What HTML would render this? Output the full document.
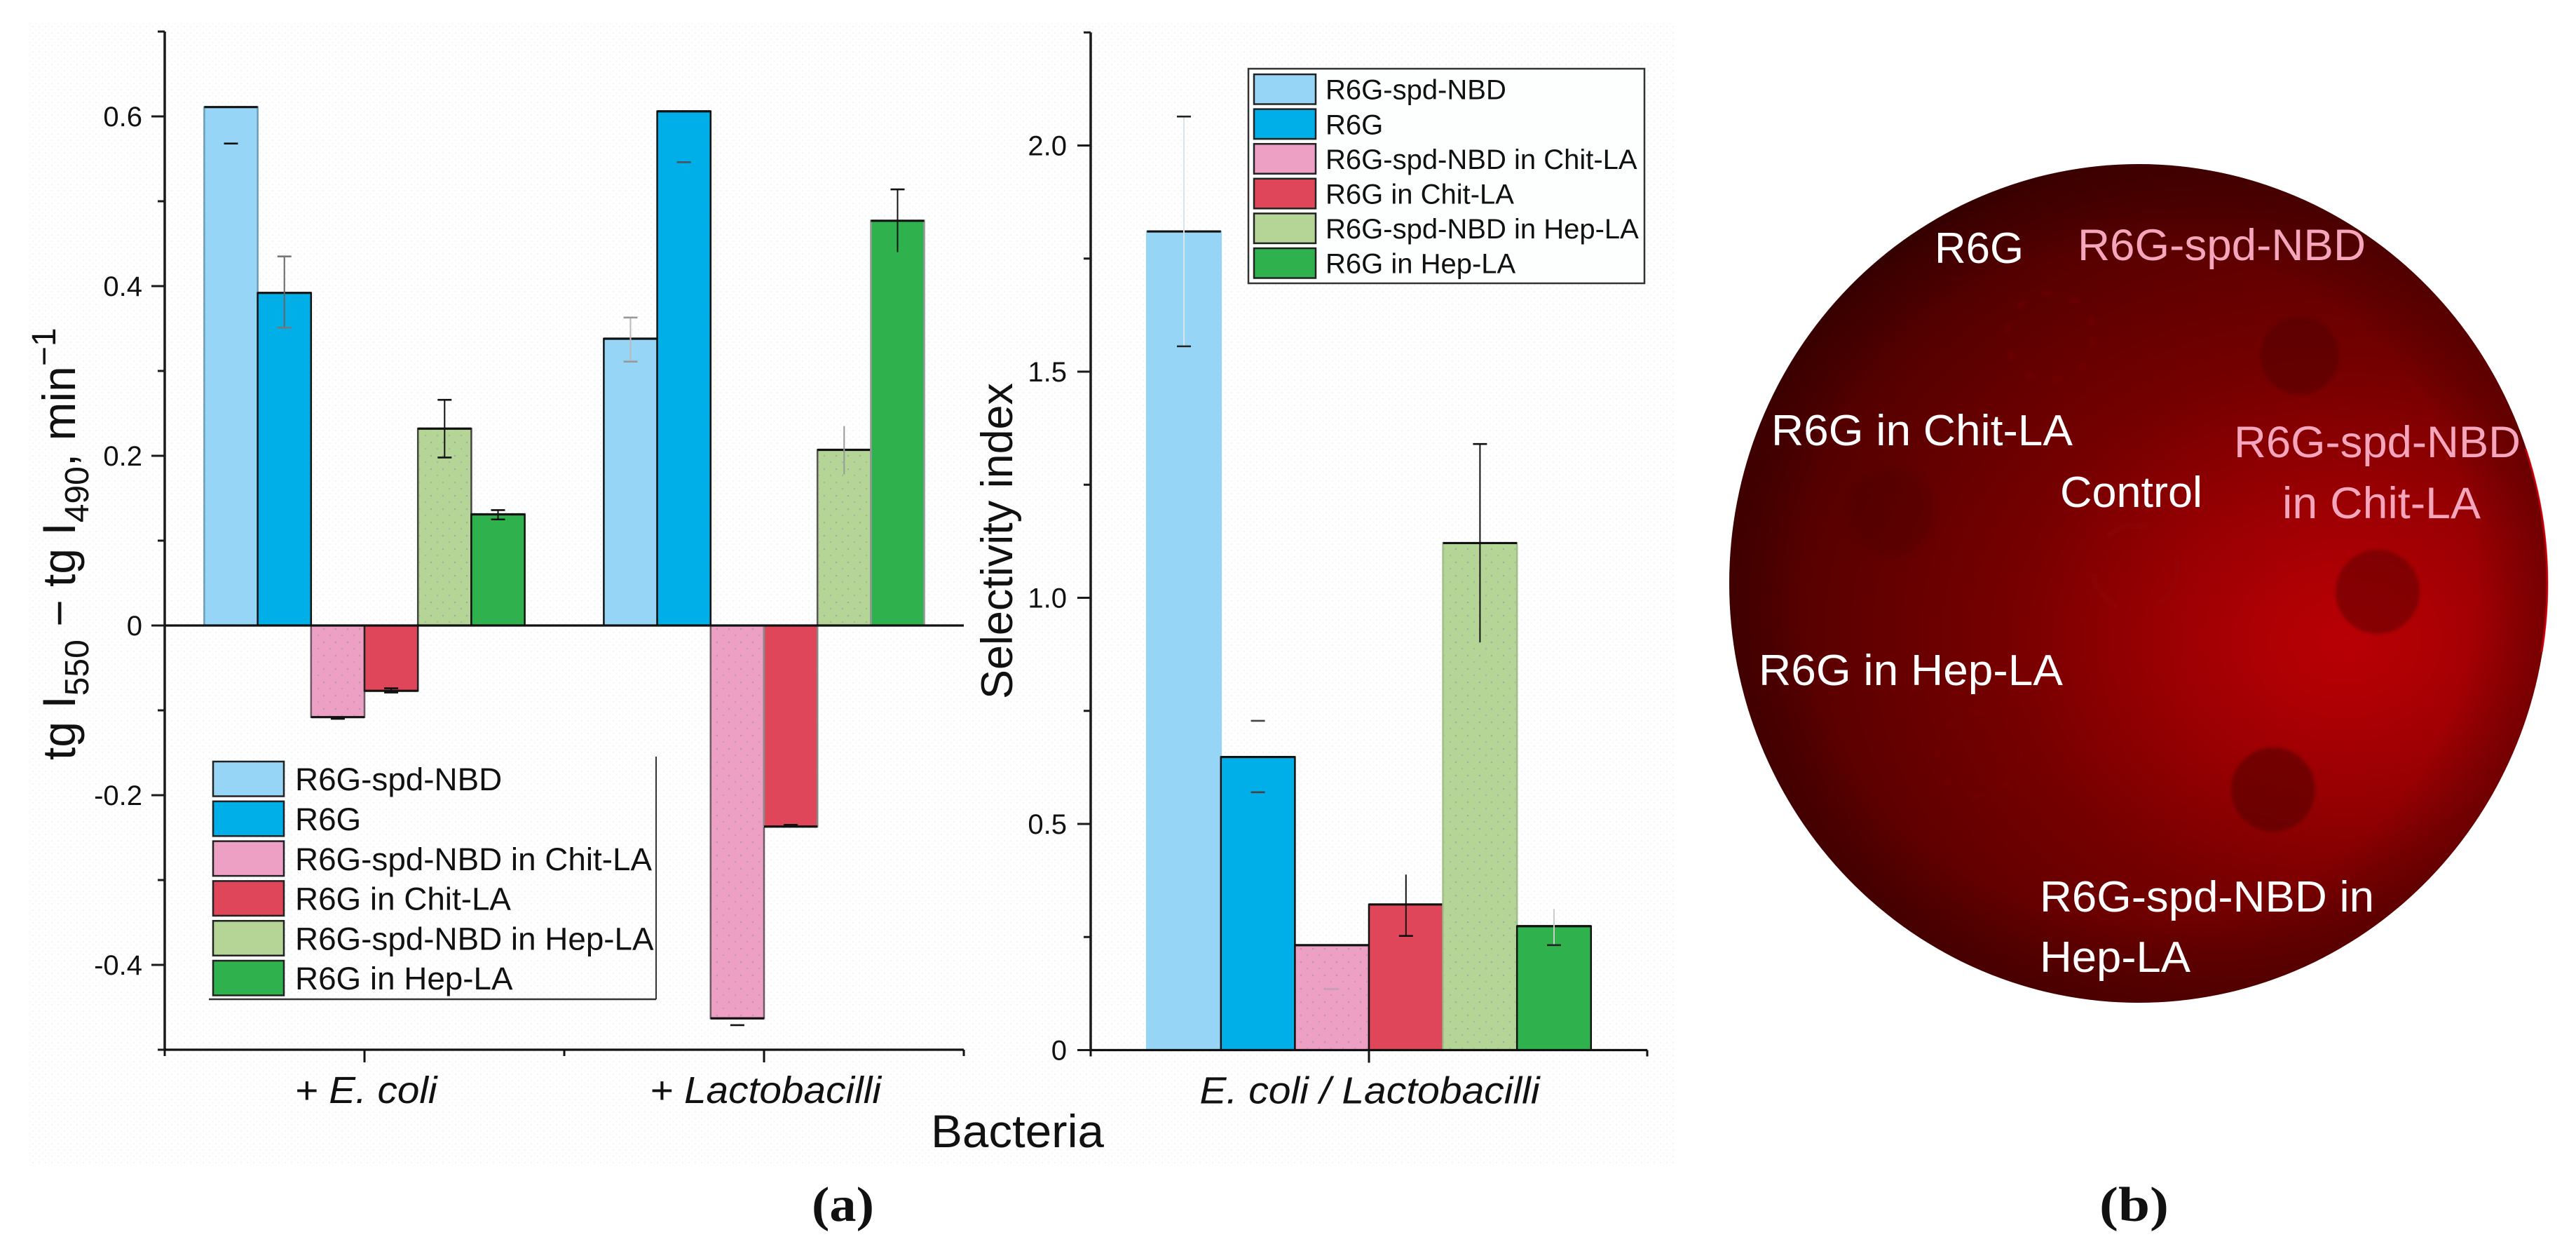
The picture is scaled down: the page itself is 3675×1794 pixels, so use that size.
<!DOCTYPE html>
<html lang="en">
<head>
<meta charset="utf-8">
<title>R6G selectivity bar charts and fluorescence plate</title>
<style>
html,body{margin:0;padding:0;background:#fff;width:3675px;height:1794px;overflow:hidden}
svg{display:block}
text{font-family:"Liberation Sans",sans-serif;fill:#111}
</style>
</head>
<body>
<svg id="figure" xmlns="http://www.w3.org/2000/svg" width="3675" height="1794" viewBox="0 0 3675 1794">
  <defs>
    <pattern id="paper-dots" width="9" height="9" patternUnits="userSpaceOnUse">
      <rect width="9" height="9" fill="#fefefe"/>
      <circle cx="2" cy="2" r="1.1" fill="#edf4f4"/>
      <circle cx="6.5" cy="6.5" r="1.1" fill="#f2f6f6"/>
    </pattern>
    <pattern id="speckle" width="17" height="19" patternUnits="userSpaceOnUse">
      <circle cx="3" cy="4" r="1.3" fill="#7f88a8" opacity=".45"/>
      <circle cx="12" cy="13" r="1.3" fill="#7f88a8" opacity=".35"/>
    </pattern>
    <radialGradient id="disc-glow" gradientUnits="userSpaceOnUse" cx="3345" cy="913" r="960" gradientTransform="translate(3345 913) scale(1 .8) translate(-3345 -913)">
      <stop offset="0" stop-color="#b80006"/>
      <stop offset=".12" stop-color="#ae0004"/>
      <stop offset=".3" stop-color="#950002"/>
      <stop offset=".5" stop-color="#760000"/>
      <stop offset=".75" stop-color="#5e0000"/>
      <stop offset=".95" stop-color="#480000"/>
      <stop offset="1" stop-color="#3a0000"/>
    </radialGradient>
    <radialGradient id="disc-vignette" gradientUnits="userSpaceOnUse" cx="3051" cy="832" r="600">
      <stop offset=".8" stop-color="#000" stop-opacity="0"/>
      <stop offset="1" stop-color="#200000" stop-opacity=".28"/>
    </radialGradient>
    <clipPath id="rim-clip"><rect x="3500" y="640" width="150" height="290"/></clipPath>
    <filter id="soft" x="-30%" y="-30%" width="160%" height="160%"><feGaussianBlur stdDeviation="2.5"/></filter>
    <filter id="soft2" x="-30%" y="-30%" width="160%" height="160%"><feGaussianBlur stdDeviation="7"/></filter>
  </defs>

  <rect width="3675" height="1794" fill="#ffffff"/>
  <rect x="41" y="32" width="2347" height="1630" fill="url(#paper-dots)"/>

  <g id="chart-left"></g>
  <g id="chart-right"></g>

  <text transform="translate(107,1084) rotate(-90)" font-size="66">tg I<tspan dy="19" font-size="48">550</tspan><tspan dy="-19"> − tg I</tspan><tspan dy="19" font-size="48">490</tspan><tspan dy="-19">, min</tspan><tspan dy="-28" font-size="48">−1</tspan></text>
  <text transform="translate(1444,997) rotate(-90)" font-size="63" textLength="451" lengthAdjust="spacingAndGlyphs">Selectivity index</text>
  <text x="1328" y="1636" font-size="66" textLength="247" lengthAdjust="spacingAndGlyphs">Bacteria</text>

  <text x="1158" y="1741" font-size="70" font-weight="bold" style="font-family:'Liberation Serif',serif" textLength="89" lengthAdjust="spacingAndGlyphs">(a)</text>
  <text x="2995" y="1741" font-size="70" font-weight="bold" style="font-family:'Liberation Serif',serif" textLength="99" lengthAdjust="spacingAndGlyphs">(b)</text>

  <g>
    <ellipse cx="3051" cy="832" rx="584" ry="598" fill="url(#disc-glow)"/>
    <ellipse cx="3051" cy="832" rx="584" ry="598" fill="url(#disc-vignette)"/>
    <ellipse cx="3051" cy="832" rx="583" ry="597" fill="none" stroke="#f0000c" stroke-width="3" opacity=".6" clip-path="url(#rim-clip)"/>
    <g>
      <circle cx="3281" cy="507" r="56" fill="#520000" opacity=".5" filter="url(#soft)"/>
      <circle cx="3392" cy="844" r="60" fill="#5a0000" opacity=".5" filter="url(#soft)"/>
      <circle cx="3243" cy="1126" r="60" fill="#560000" opacity=".58" filter="url(#soft)"/>
      <circle cx="2925" cy="480" r="62" fill="none" stroke="#7c0606" stroke-width="8" stroke-dasharray="14 26" opacity=".4" filter="url(#soft)"/>
      <circle cx="2697" cy="730" r="62" fill="#3a0000" opacity=".22" filter="url(#soft2)"/>
      <circle cx="3046" cy="810" r="60" fill="none" stroke="#8e0808" stroke-width="8" stroke-dasharray="60 60" opacity=".3" filter="url(#soft)"/>
      <circle cx="2823" cy="1075" r="60" fill="none" stroke="#860606" stroke-width="6" stroke-dasharray="12 34" opacity=".3" filter="url(#soft)"/>
    </g>
    <text x="2760" y="375" font-size="62" style="fill:#fff" textLength="127" lengthAdjust="spacingAndGlyphs">R6G</text>
    <text x="2964" y="371" font-size="63" style="fill:#f5a6bd" textLength="411" lengthAdjust="spacingAndGlyphs">R6G-spd-NBD</text>
    <text x="2527" y="635" font-size="62" style="fill:#fff" textLength="430" lengthAdjust="spacingAndGlyphs">R6G in Chit-LA</text>
    <text x="2939" y="723" font-size="62" style="fill:#fff" textLength="203" lengthAdjust="spacingAndGlyphs">Control</text>
    <text x="3187" y="652" font-size="63" style="fill:#f5a6bd" textLength="409" lengthAdjust="spacingAndGlyphs">R6G-spd-NBD</text>
    <text x="3256" y="739" font-size="63" style="fill:#f5a6bd" textLength="283" lengthAdjust="spacingAndGlyphs">in Chit-LA</text>
    <text x="2509" y="977" font-size="62" style="fill:#fff" textLength="434" lengthAdjust="spacingAndGlyphs">R6G in Hep-LA</text>
    <text x="2910" y="1300" font-size="62" style="fill:#fff" textLength="477" lengthAdjust="spacingAndGlyphs">R6G-spd-NBD in</text>
    <text x="2910" y="1386" font-size="62" style="fill:#fff" textLength="215" lengthAdjust="spacingAndGlyphs">Hep-LA</text>
  </g>
</svg>

<script>
// ---- data ----
const seriesNames = ['R6G-spd-NBD', 'R6G', 'R6G-spd-NBD in Chit-LA', 'R6G in Chit-LA', 'R6G-spd-NBD in Hep-LA', 'R6G in Hep-LA'];
const seriesColors = ['#97d5f7', '#00aee8', '#ee9fc4', '#e0465a', '#b5d597', '#2fb24e'];

const leftCategories = ['+ E. coli', '+ Lactobacilli'];
const leftValues = [
  [0.611, 0.392, -0.108, -0.077, 0.232, 0.131],
  [0.338, 0.606, -0.463, -0.237, 0.207, 0.477]
];
const leftErrHigh = [
  [null, 0.435, null, -0.074, 0.266, 0.136],
  [0.363, null, null, -0.235, 0.235, 0.514]
];
const leftErrLow = [
  [0.568, 0.351, -0.110, -0.079, 0.198, 0.125],
  [0.311, 0.546, -0.471, null, 0.178, 0.440]
];
const leftMajorTicks = [0.6, 0.4, 0.2, 0, -0.2, -0.4];
const leftTickLabels = ['0.6', '0.4', '0.2', '0', '-0.2', '-0.4'];
const leftMinorTicks = [0.7, 0.5, 0.3, 0.1, -0.1, -0.3, -0.5];

const rightCategories = ['E. coli / Lactobacilli'];
const rightValues = [[1.81, 0.648, 0.232, 0.322, 1.121, 0.274]];
const rightErrHigh = [[2.064, 0.728, null, 0.388, 1.34, 0.312]];
const rightErrLow = [[1.556, 0.570, 0.135, 0.2525, 0.9015, 0.232]];
const rightMajorTicks = [2.0, 1.5, 1.0, 0.5, 0];
const rightTickLabels = ['2.0', '1.5', '1.0', '0.5', '0'];
const rightMinorTicks = [2.25, 1.75, 1.25, 0.75, 0.25];

// which whisker ends show a cap, per bar (1 = shown)
const leftHighCaps = [[0, 1, 0, 1, 1, 1], [1, 0, 0, 1, 0, 1]];
const leftLowCaps = [[1, 1, 1, 1, 1, 1], [1, 1, 1, 0, 0, 0]];
const rightHighCaps = [[1, 1, 0, 0, 1, 0]];
const rightLowCaps = [[1, 1, 1, 1, 0, 1]];

// appearance per bar: stem tone ('' = no stem), cap tone, bar side tone
const leftStemTones = [
  ['', '#666', '', '#111', '#111', '#111'],
  ['#bbb', '', '', '', '#999', '#111']
];
const leftCapTones = [
  ['#111', '#777', '#111', '#111', '#111', '#111'],
  ['#999', '#456', '#111', '#111', '#888', '#111']
];
const leftEdgeTones = [
  ['#6d9cba', '#111', '#6b5a66', '#222', '#444', '#111'],
  ['#111', '#111', '#6b5a66', '#888', '#555', '#999']
];
const rightStemTones = [['#d6e4ec', '', '', '#111', '#111', '#ccc']];
const rightCapTones = [['#222', '#444', '#c4a0b4', '#111', '#111', '#222']];
const rightEdgeTones = [['#97d5f7', '#111', '#111', '#111', '#9fbf88', '#111']];

// ---- helpers ----
const NS = 'http://www.w3.org/2000/svg';
function mk(parent, tag, attrs, txt) {
  const el = document.createElementNS(NS, tag);
  for (const k in attrs) el.setAttribute(k, attrs[k]);
  if (txt !== undefined) el.textContent = txt;
  parent.appendChild(el);
  return el;
}
function slug(s) {
  return s.toLowerCase().replace(/[^a-z0-9]+/g, '-').replace(/^-|-$/g, '');
}

function drawChart(cfg) {
  const g = document.getElementById(cfg.id);
  const band = (cfg.xEnd - cfg.xStart) / cfg.categories.length;
  const xCenter = i => cfg.xStart + (i + 0.5) * band;
  const barX = (i, k) => xCenter(i) + (k - seriesNames.length / 2) * cfg.barWidth;
  const y = cfg.y;

  // bars
  cfg.values.forEach((row, i) => {
    row.forEach((v, k) => {
      const x = barX(i, k);
      const y0 = y(0), y1 = y(v);
      const top = Math.min(y0, y1), h = Math.abs(y1 - y0);
      const bar = mk(g, 'rect', {x: x, y: top, width: cfg.barWidth, height: h, fill: seriesColors[k], stroke: cfg.edges[i][k], 'stroke-width': 2.5});
      
      
      if (k === 4 || k === 2) {
        const sp = mk(g, 'rect', {x: x + 2, y: top + 2, width: cfg.barWidth - 4, height: Math.max(0, h - 4), fill: 'url(#speckle)'});
        
        
      }
      const end = mk(g, 'line', {x1: x, x2: x + cfg.barWidth, y1: y1, y2: y1, stroke: '#111', 'stroke-width': 3.2});
      
      
    });
  });

  // error bars
  cfg.values.forEach((row, i) => {
    row.forEach((v, k) => {
      const cx = barX(i, k) + cfg.barWidth / 2;
      const hi = cfg.errHigh[i][k], lo = cfg.errLow[i][k];
      const stemTone = cfg.stems[i][k], capTone = cfg.caps[i][k];
      if (hi !== null && lo !== null && stemTone) {
        const st = mk(g, 'line', {x1: cx, x2: cx, y1: y(hi), y2: y(lo), stroke: stemTone, 'stroke-width': 2});
        
        
      }
      if (hi !== null && cfg.highCaps[i][k]) {
        const capH = mk(g, 'line', {x1: cx - 10, x2: cx + 10, y1: y(hi), y2: y(hi), stroke: capTone, 'stroke-width': 2.6});
        
        
      }
      if (lo !== null && cfg.lowCaps[i][k]) {
        const capL = mk(g, 'line', {x1: cx - 10, x2: cx + 10, y1: y(lo), y2: y(lo), stroke: capTone, 'stroke-width': 2.6});
        
        
      }
    });
  });

  // y axis
  const yAxis = mk(g, 'line', {x1: cfg.xStart, x2: cfg.xStart, y1: y(cfg.yMax), y2: y(cfg.yMin), stroke: '#1a1a1a', 'stroke-width': 3.5});
  
  

  cfg.majorTicks.forEach((t, idx) => {
    const tick = mk(g, 'line', {x1: cfg.xStart - 19, x2: cfg.xStart, y1: y(t), y2: y(t), stroke: '#1a1a1a', 'stroke-width': 3});
    
    
    const lab = mk(g, 'text', {x: cfg.xStart - cfg.labelGap, y: y(t) + 14, 'font-size': 40, 'text-anchor': 'end'}, cfg.tickLabels[idx]);
    
    
  });
  cfg.minorTicks.forEach(t => {
    const tick = mk(g, 'line', {x1: cfg.xStart - 10, x2: cfg.xStart, y1: y(t), y2: y(t), stroke: '#1a1a1a', 'stroke-width': 3});
    
    
  });

  // x axis lines
  const yB = y(cfg.yMin);
  const xAxis = mk(g, 'line', {x1: cfg.xStart, x2: cfg.xEnd, y1: yB, y2: yB, stroke: '#111', 'stroke-width': 3.2});
  
  
  if (cfg.yMin < 0) {
    const zero = mk(g, 'line', {x1: cfg.xStart, x2: cfg.xEnd, y1: y(0), y2: y(0), stroke: '#111', 'stroke-width': 3.2});
    
    
  }

  for (let i = 0; i <= cfg.categories.length; i++) {
    const tx = cfg.xStart + i * band;
    const tick = mk(g, 'line', {x1: tx, x2: tx, y1: yB, y2: yB + 9, stroke: '#111', 'stroke-width': 3});
    
    
  }
  cfg.categories.forEach((c, i) => {
    const tick = mk(g, 'line', {x1: xCenter(i), x2: xCenter(i), y1: yB, y2: yB + 18, stroke: '#111', 'stroke-width': 3});
    
    
    const lab = mk(g, 'text', {x: xCenter(i) + cfg.catOffset[i], y: yB + 76, 'font-size': 54, 'font-style': 'italic', 'text-anchor': 'middle', textLength: cfg.catWidth[i], lengthAdjust: 'spacingAndGlyphs'}, c);
    
    
  });
}

function drawLegend(cfg) {
  const g = mk(document.getElementById(cfg.parent), 'g', {});
  
  
  seriesNames.forEach((s, k) => {
    const top = cfg.top + k * cfg.pitch;
    const sw = mk(g, 'rect', {x: cfg.swX, y: top, width: cfg.swW, height: cfg.swH, fill: seriesColors[k], stroke: '#222', 'stroke-width': 2.5});
    
    
    const t = mk(g, 'text', {x: cfg.textX, y: top + cfg.swH / 2 + cfg.fs * 0.36, 'font-size': cfg.fs}, s);
    
    
  });
  return g;
}

// ---- left chart ----
drawChart({
  id: 'chart-left',
  categories: leftCategories, values: leftValues, errHigh: leftErrHigh, errLow: leftErrLow,
  majorTicks: leftMajorTicks, tickLabels: leftTickLabels, minorTicks: leftMinorTicks,
  edges: leftEdgeTones, stems: leftStemTones, caps: leftCapTones, highCaps: leftHighCaps, lowCaps: leftLowCaps,
  xStart: 235, xEnd: 1375, barWidth: 76.2,
  y: v => 892 - v * 1210, yMax: 0.7, yMin: -0.5,
  labelGap: 32, catOffset: [2, 2], catWidth: [203, 330]
});

// ---- right chart ----
drawChart({
  id: 'chart-right',
  categories: rightCategories, values: rightValues, errHigh: rightErrHigh, errLow: rightErrLow,
  majorTicks: rightMajorTicks, tickLabels: rightTickLabels, minorTicks: rightMinorTicks,
  edges: rightEdgeTones, stems: rightStemTones, caps: rightCapTones, highCaps: rightHighCaps, lowCaps: rightLowCaps,
  xStart: 1556, xEnd: 2350, barWidth: 105.6,
  y: v => 1497.5 - v * 645, yMax: 2.25, yMin: 0,
  labelGap: 34, catOffset: [1], catWidth: [485]
});

// ---- legends ----
const leftLegendBg = document.getElementById('chart-left');
const leftFrameR = mk(leftLegendBg, 'line', {x1: 936, x2: 936, y1: 1079, y2: 1425, stroke: '#333', 'stroke-width': 2});


const leftFrameB = mk(leftLegendBg, 'line', {x1: 298, x2: 936, y1: 1425, y2: 1425, stroke: '#333', 'stroke-width': 2.5});


drawLegend({parent: 'chart-left', name: 'left-legend', swX: 304, swW: 101, top: 1086, swH: 49.5, pitch: 56.8, textX: 421, fs: 45.8});

const rightFrame = mk(document.getElementById('chart-right'), 'rect', {x: 1781, y: 98, width: 565, height: 306, fill: '#fdfefe', stroke: '#333', 'stroke-width': 2.5});


drawLegend({parent: 'chart-right', name: 'right-legend', swX: 1789, swW: 88, top: 106, swH: 42.5, pitch: 49.6, textX: 1891, fs: 40});
</script>
</body>
</html>
